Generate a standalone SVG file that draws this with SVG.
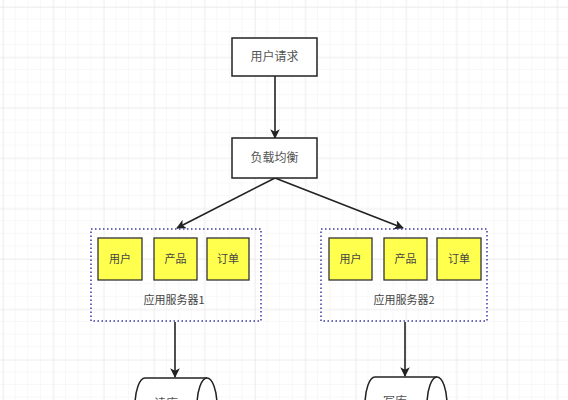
<svg xmlns="http://www.w3.org/2000/svg" width="568" height="400" viewBox="0 0 568 400">
  <defs>
    <pattern id="minor" width="12.6" height="12.6" patternUnits="userSpaceOnUse" x="3" y="7">
      <path d="M12.6 0V12.6M0 12.6H12.6" fill="none" stroke="#f2f2f2" stroke-width="1"/>
    </pattern>
    <pattern id="major" width="50.4" height="50.4" patternUnits="userSpaceOnUse" x="3" y="7">
      <path d="M0 0V50.4M0 0H50.4" fill="none" stroke="#e6e6e6" stroke-width="1"/>
    </pattern>
    <marker id="arr" viewBox="0 0 10 10" refX="9" refY="5" markerWidth="6" markerHeight="6" markerUnits="strokeWidth" orient="auto">
      <path d="M0 0L10 5L0 10L2.5 5Z" fill="#222"/>
    </marker>
  </defs>
  <style>
    .box{fill:#fff;stroke:#222;stroke-width:1.5}
    .mod{fill:#ffff4d;stroke:#333;stroke-width:1.3}
    .grp{fill:none;stroke:#3a3aa0;stroke-width:1.5;stroke-dasharray:1.5 2.5}
    .t{font-family:"Noto Sans CJK SC","Liberation Sans",sans-serif;font-size:12px;fill:#555;text-anchor:middle}
    .ts{font-family:"Noto Sans CJK SC","Liberation Sans",sans-serif;font-size:11px;fill:#444;text-anchor:middle}
    .edge{fill:none;stroke:#222;stroke-width:1.6;marker-end:url(#arr)}
    .cyl{fill:#fff;stroke:#222;stroke-width:1.5}
  </style>
  <rect width="568" height="400" fill="#fff"/>
  <rect width="568" height="400" fill="url(#minor)"/>
  <rect width="568" height="400" fill="url(#major)"/>

  <g id="connectors">
    <path class="edge" d="M275 76V138"/>
    <path class="edge" d="M275 178L177 228"/>
    <path class="edge" d="M275 178L403 228"/>
    <path class="edge" d="M175 322V377"/>
    <path class="edge" d="M405 322V376"/>
  </g>

  <g id="user-request">
    <rect class="box" x="232" y="38" width="85" height="38"/>
    <text class="t" x="274.5" y="61">用户请求</text>
  </g>
  <g id="load-balancer">
    <rect class="box" x="232" y="138" width="85" height="40"/>
    <text class="t" x="274.5" y="162">负载均衡</text>
  </g>

  <g id="app-server-1">
    <rect class="grp" x="91" y="229" width="170" height="92"/>
    <rect class="mod" x="98" y="238" width="44" height="42"/>
    <text class="ts" x="120" y="263">用户</text>
    <rect class="mod" x="154" y="238" width="43" height="42"/>
    <text class="ts" x="175.5" y="263">产品</text>
    <rect class="mod" x="207" y="238" width="42" height="42"/>
    <text class="ts" x="228" y="263">订单</text>
    <text class="ts" x="174" y="304">应用服务器1</text>
  </g>

  <g id="app-server-2">
    <rect class="grp" x="321" y="229" width="166" height="92"/>
    <rect class="mod" x="329" y="238" width="43" height="42"/>
    <text class="ts" x="350.5" y="263">用户</text>
    <rect class="mod" x="384" y="238" width="43" height="42"/>
    <text class="ts" x="405.5" y="263">产品</text>
    <rect class="mod" x="437" y="238" width="44" height="42"/>
    <text class="ts" x="459" y="263">订单</text>
    <text class="ts" x="404" y="304">应用服务器2</text>
  </g>

  <g id="read-db">
    <path class="cyl" d="M145 378H207A10 28 0 0 1 207 434H145A10 28 0 0 1 145 378Z"/>
    <path class="cyl" fill="none" d="M207 378A10 28 0 0 0 207 434"/>
    <text class="t" x="166" y="408">读库</text>
  </g>
  <g id="write-db">
    <path class="cyl" d="M375 377H437A10 28 0 0 1 437 433H375A10 28 0 0 1 375 377Z"/>
    <path class="cyl" fill="none" d="M437 377A10 28 0 0 0 437 433"/>
    <text class="t" x="395" y="406">写库</text>
  </g>
</svg>
